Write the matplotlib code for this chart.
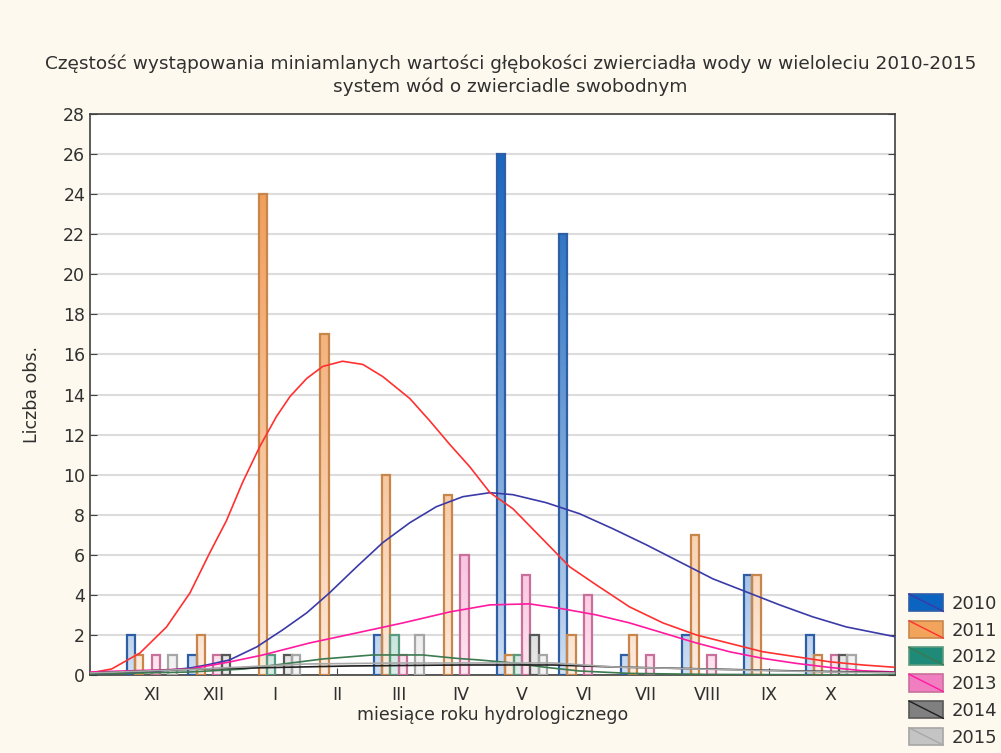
import numpy as np
import matplotlib.pyplot as plt
from matplotlib.colors import LinearSegmentedColormap
from matplotlib.patches import Rectangle
from matplotlib.lines import Line2D
from matplotlib.legend_handler import HandlerBase

# miesiace roku hydrologicznego (XI = 0 ... X = 11)
months = ['XI', 'XII', 'I', 'II', 'III', 'IV', 'V', 'VI', 'VII', 'VIII', 'IX', 'X']
years = ['2010', '2011', '2012', '2013', '2014', '2015']

counts_2010 = [2, 1, 0, 0, 2, 0, 26, 22, 1, 2, 5, 2]
counts_2011 = [1, 2, 24, 17, 10, 9, 1, 2, 2, 7, 5, 1]
counts_2012 = [0, 0, 1, 0, 2, 0, 1, 0, 0, 0, 0, 0]
counts_2013 = [1, 1, 0, 0, 1, 6, 5, 4, 1, 1, 0, 1]
counts_2014 = [0, 1, 1, 0, 0, 0, 2, 0, 0, 0, 0, 1]
counts_2015 = [1, 0, 1, 0, 2, 0, 1, 0, 0, 0, 0, 1]

# dopasowane krzywe (pozycja w miesiacach, liczba obs.)
fit_x_2010 = [-1.0, -0.03, 0.62, 0.89, 1.26, 1.7, 2.12, 2.51, 2.88, 3.32, 3.74, 4.18, 4.61, 5.04,
              5.48, 5.85, 6.39, 6.93, 7.47, 8.01, 8.55, 9.09, 9.63, 10.17, 10.71, 11.25, 12.06]
fit_y_2010 = [0.05, 0.15, 0.35, 0.5, 0.75, 1.4, 2.25, 3.1, 4.1, 5.4, 6.6, 7.6, 8.4, 8.9,
              9.1, 9.0, 8.6, 8.05, 7.3, 6.5, 5.65, 4.8, 4.15, 3.5, 2.9, 2.4, 1.9]
fit_x_2011 = [-1.0, -0.65, -0.19, 0.24, 0.62, 0.94, 1.21, 1.47, 1.75, 2.02, 2.24, 2.51, 2.77, 3.09,
              3.42, 3.74, 4.18, 4.5, 4.83, 5.15, 5.48, 5.85, 6.39, 6.77, 7.2, 7.74, 8.28, 8.82,
              9.36, 9.9, 10.44, 10.98, 11.52, 12.06]
fit_y_2011 = [0.1, 0.3, 1.1, 2.4, 4.1, 6.1, 7.7, 9.6, 11.4, 12.9, 13.9, 14.8, 15.4, 15.66,
              15.5, 14.9, 13.8, 12.7, 11.5, 10.4, 9.1, 8.3, 6.6, 5.4, 4.5, 3.4, 2.6, 2.0,
              1.58, 1.16, 0.91, 0.66, 0.5, 0.38]
fit_x_2012 = [-1.0, 0.62, 1.5, 2.0, 2.77, 3.58, 4.39, 4.94, 5.31, 5.85, 6.39, 6.93, 7.74, 9.0, 12.06]
fit_y_2012 = [0.05, 0.15, 0.3, 0.5, 0.8, 1.0, 1.0, 0.83, 0.75, 0.6, 0.38, 0.2, 0.08, 0.03, 0.0]
fit_x_2013 = [-1.0, 0.62, 1.26, 1.8, 2.56, 3.32, 4.07, 4.83, 5.48, 6.12, 6.66, 7.2, 7.74, 8.28,
              8.82, 9.36, 9.9, 10.44, 10.98, 11.52, 12.06]
fit_y_2013 = [0.15, 0.3, 0.65, 1.0, 1.6, 2.1, 2.6, 3.15, 3.5, 3.55, 3.3, 3.0, 2.6, 2.1,
              1.6, 1.16, 0.83, 0.58, 0.38, 0.21, 0.15]
fit_x_2014 = [-1.0, 0.8, 3.2, 5.0, 6.5, 7.5, 9.0, 10.5, 12.06]
fit_y_2014 = [0.1, 0.3, 0.45, 0.5, 0.5, 0.4, 0.3, 0.2, 0.12]
fit_x_2015 = [-1.0, 0.8, 2.5, 4.0, 6.5, 7.5, 9.5, 11.0, 12.06]
fit_y_2015 = [0.1, 0.3, 0.55, 0.6, 0.6, 0.4, 0.25, 0.15, 0.1]

counts = [counts_2010, counts_2011, counts_2012, counts_2013, counts_2014, counts_2015]
fits_x = [fit_x_2010, fit_x_2011, fit_x_2012, fit_x_2013, fit_x_2014, fit_x_2015]
fits_y = [fit_y_2010, fit_y_2011, fit_y_2012, fit_y_2013, fit_y_2014, fit_y_2015]

# kolory: gora slupka, dol slupka, obwodka, krzywa, probka legendy
top_cols = ['#0f5fba', '#f0944a', '#1a8a78', '#f060b0', '#6c6c6c', '#b8b8b8']
low_cols = ['#d2e1f4', '#fdede0', '#ddefea', '#fde8f1', '#ececec', '#f5f5f5']
edge_cols = ['#2e5ea6', '#c8864a', '#5a9a80', '#c8709a', '#585858', '#a6a6a6']
line_cols = ['#3a3aa8', '#ff3030', '#3c7a50', '#ff1aa0', '#202020', '#a8a8a8']
swatch_cols = ['#0b64c0', '#f2a35c', '#1f8a78', '#f07ec0', '#808080', '#c4c4c4']

BG = '#fdf9ee'
FONT = 12.5
TXT = '#303030'


class Swatch:
    def __init__(self, fill, edge, line):
        self.fill = fill
        self.edge = edge
        self.line = line


class SwatchHandler(HandlerBase):
    def create_artists(self, legend, h, xd, yd, width, height, fontsize, trans):
        r = Rectangle((-xd, -yd), width, height, facecolor=h.fill, edgecolor=h.edge,
                      lw=1.2, transform=trans)
        l = Line2D([-xd, -xd + width], [-yd + height, -yd], color=h.line, lw=1.0,
                   transform=trans)
        return [r, l]


fig = plt.figure(figsize=(10.01, 7.53), dpi=100, facecolor=BG)
ax = fig.add_axes([90 / 1001, 1 - 675 / 753, 805 / 1001, 561 / 753])
ax.set_facecolor('white')

bar_w = 0.135
ymax = 28
for i, year in enumerate(years):
    cmap = LinearSegmentedColormap.from_list('g' + year, [low_cols[i], top_cols[i]])
    for m, v in enumerate(counts[i]):
        if v == 0:
            continue
        x0 = m + (i - 2.5) * bar_w - bar_w / 2
        grad = (np.linspace(0, v / ymax, 100) ** 0.85).reshape(-1, 1)
        ax.imshow(grad, extent=(x0, x0 + bar_w, 0, v), origin='lower', aspect='auto',
                  cmap=cmap, vmin=0, vmax=1, zorder=2, interpolation='bilinear')
        ax.add_patch(Rectangle((x0, 0), bar_w, v, fill=False, edgecolor=edge_cols[i],
                               lw=1.6, zorder=3))

for i in range(len(years)):
    ax.plot(fits_x[i], fits_y[i], color=line_cols[i], lw=1.2, zorder=4)

ax.set_xlim(-1.0, 12.04)
ax.set_ylim(0, ymax)
ax.set_yticks(range(0, 29, 2))
ax.set_xticks(range(12))
ax.set_xticklabels(months)
ax.grid(axis='y', color='#dcdcdc', lw=1.5, zorder=0)
ax.set_axisbelow(True)
ax.tick_params(axis='both', direction='in', length=5, labelsize=FONT, colors='#404040',
               labelcolor=TXT, right=True)
ax.tick_params(axis='x', pad=8)
for s in ax.spines.values():
    s.set_color('#404040')
    s.set_linewidth(1.2)

ax.set_ylabel('Liczba obs.', fontsize=FONT, color=TXT, labelpad=16)
ax.set_xlabel('miesiące roku hydrologicznego', fontsize=FONT, color=TXT, labelpad=1)
fig.text(0.51, 1 - 75 / 753,
         'Częstość wystąpowania miniamlanych wartości głębokości zwierciadła wody w wieloleciu 2010-2015\n'
         'system wód o zwierciadle swobodnym',
         ha='center', va='center', fontsize=13.3, color=TXT, linespacing=1.3)

handles = [Swatch(swatch_cols[i], edge_cols[i], line_cols[i]) for i in range(len(years))]
fig.legend(handles, years, handler_map={Swatch: SwatchHandler()}, loc='upper left',
           bbox_to_anchor=(909 / 1001, 1 - 594 / 753), frameon=False, fontsize=13,
           handlelength=1.9, handleheight=1.1, labelspacing=0.44, handletextpad=0.45,
           borderpad=0, borderaxespad=0, labelcolor=TXT)

fig.savefig('out.png', dpi=100, facecolor=BG)
